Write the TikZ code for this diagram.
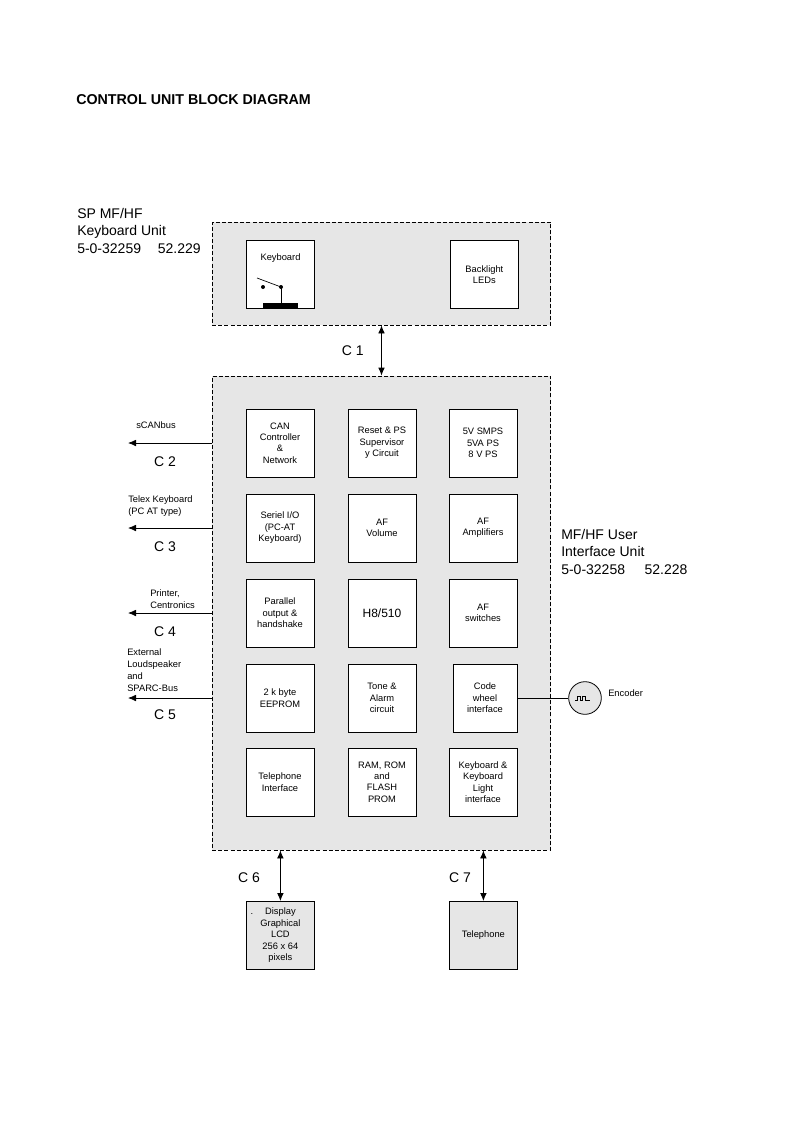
\documentclass[tikz,border=0pt]{standalone}
\usepackage{fontspec}
\setmainfont{Liberation Sans}
\usetikzlibrary{arrows.meta}
\definecolor{panel}{HTML}{E6E6E6}
\begin{document}
\begin{tikzpicture}[x=0.75pt,y=-0.75pt,
  unit/.style={draw, fill=panel, line width=0.6pt, dash pattern=on 3pt off 1.6pt, inner sep=0pt},
  blk/.style={draw, fill=white, line width=0.6pt, minimum width=51pt, minimum height=51pt, inner sep=1pt, align=center, font=\fontsize{7}{8.6}\selectfont},
  gblk/.style={blk, fill=panel},
  big/.style={font=\fontsize{10.5}{13.1}\selectfont, inner sep=0pt},
  small/.style={font=\fontsize{7}{9}\selectfont, inner sep=0pt, align=left},
  conn/.style={line width=0.6pt, {Latex[length=6pt,width=5pt]}-{Latex[length=6pt,width=5pt]}},
  outarrow/.style={line width=0.6pt, -{Latex[length=6pt,width=5pt]}}
]
\useasboundingbox (0,0) rectangle (793,1122);

% title
\node[anchor=base west, inner sep=0pt, font=\fontsize{10.7}{13}\selectfont\bfseries] (title) at (76,104) {CONTROL UNIT BLOCK DIAGRAM};

% keyboard unit
\node[unit, minimum width=254pt, minimum height=77.25pt] (kbunit) at (381.5,273.5) {};
\node[blk, anchor=north west] (kb) at (246,240) {};
\node[anchor=base, inner sep=0pt, font=\fontsize{7}{8.6}\selectfont] (kbtxt) at (280.5,260) {Keyboard};
\draw[line width=0.5pt] (257,278) -- (281,287);
\fill (263,287) circle (2);
\fill (281,287) circle (2);
\draw[line width=0.6pt] (281,287) -- (281,304);
\fill (263,303) rectangle (298,308);
\node[blk, anchor=north west] (bl) at (450,240) {Backlight\\LEDs};

\node[big, anchor=base west, align=left] (kblabel) at (77,253) {SP MF/HF\\Keyboard Unit\\5-0-32259\hspace{1.2em}52.229};

% user interface unit
\node[unit, minimum width=254pt, minimum height=355.5pt] (ui) at (381.5,613) {};
\draw[conn] (kbunit.south) -- (ui.north) node[midway, left=13pt, big] (c1) {C 1};

\node[big, anchor=base west, align=left] (uilabel) at (561,574) {MF/HF User\\Interface Unit\\5-0-32258\hspace{1.4em}52.228};

% grid of blocks
\node[blk] (g11) at (280,443) {CAN\\Controller\\\&\\Network};
\node[blk] (g12) at (382,443) {Reset \& PS\\Supervisor\\y Circuit};
\node[blk] (g13) at (483,443) {5V SMPS\\5VA PS\\8 V PS};
\node[blk] (g21) at (280,528) {Seriel I/O\\(PC-AT\\Keyboard)};
\node[blk] (g22) at (382,528) {AF\\Volume};
\node[blk] (g23) at (483,528) {AF\\Amplifiers};
\node[blk] (g31) at (280,613) {Parallel\\output \&\\handshake};
\node[blk, font=\fontsize{9}{11}\selectfont] (g32) at (382,613) {H8/510};
\node[blk] (g33) at (483,613) {AF\\switches};
\node[blk] (g41) at (280,698) {2 k byte\\EEPROM};
\node[blk] (g42) at (382,698) {Tone \&\\Alarm\\circuit};
\node[blk, minimum width=48pt] (g43) at (485,698) {Code\\wheel\\interface};
\node[blk] (g51) at (280,782) {Telephone\\Interface};
\node[blk] (g52) at (382,782) {RAM, ROM\\and\\FLASH\\PROM};
\node[blk] (g53) at (483,782) {Keyboard \&\\Keyboard\\Light\\interface};

% encoder
\node[draw, fill=panel, circle, minimum size=24.5pt, inner sep=0pt, line width=0.6pt] (enc) at (585,698) {};
\draw[line width=0.5pt] ([xshift=-7.5]enc.center) ++(0,2) -- ++(2,0) -- ++(0,-4) -- ++(3,0) -- ++(0,4) -- ++(2,0) -- ++(0,-4) -- ++(3,0) -- ++(0,4) -- ++(5,0);
\draw[line width=0.6pt] (g43.east) -- (enc.west);
\node[anchor=west, inner sep=0pt, font=\fontsize{7}{9}\selectfont] (enctxt) at (608,693) {Encoder};

% left connectors
\coordinate (e2) at (128,443);
\coordinate (e3) at (128,528);
\coordinate (e4) at (128,613);
\coordinate (e5) at (128,698);
\draw[outarrow] (ui.west |- e2) -- (e2);
\draw[outarrow] (ui.west |- e3) -- (e3);
\draw[outarrow] (ui.west |- e4) -- (e4);
\draw[outarrow] (ui.west |- e5) -- (e5);
\node[big, anchor=base] (c2) at (165,466) {C 2};
\node[big, anchor=base] (c3) at (165,551) {C 3};
\node[big, anchor=base] (c4) at (165,636) {C 4};
\node[big, anchor=base] (c5) at (165,719) {C 5};
\node[small, anchor=base west] (l2) at (136,428) {sCANbus};
\node[small, anchor=base west] (l3) at (128,514) {Telex Keyboard\\(PC AT type)};
\node[small, anchor=base west] (l4) at (150,608) {Printer,\\Centronics};
\node[small, anchor=base west] (l5) at (127,691) {External\\Loudspeaker\\and\\SPARC-Bus};

% bottom units
\node[gblk, anchor=north west] (disp) at (246,901) {\llap{.\hspace{9pt}}Display\\Graphical\\LCD\\256 x 64\\pixels};
\node[gblk, anchor=north west] (tel) at (449,901) {Telephone};
\draw[conn] (disp.north |- ui.south) -- (disp.north);
\draw[conn] (tel.north |- ui.south) -- (tel.north);
\node[big, anchor=base] (c6) at (249,882) {C 6};
\node[big, anchor=base] (c7) at (460,882) {C 7};
\end{tikzpicture}
\end{document}
